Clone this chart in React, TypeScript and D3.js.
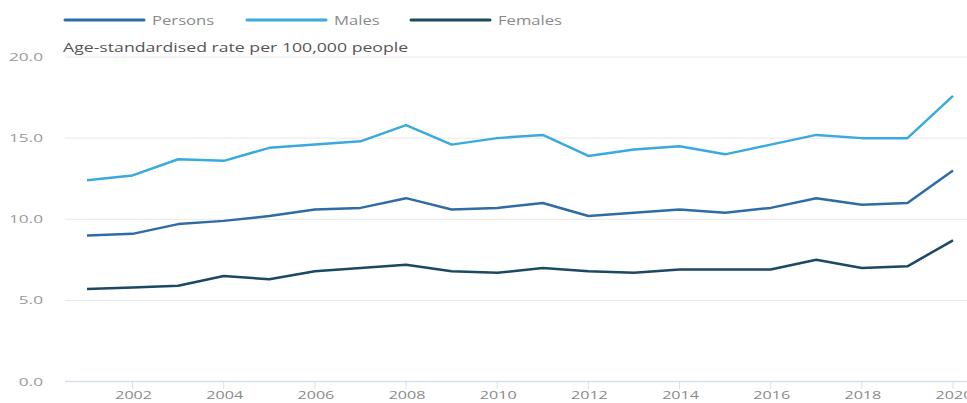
import * as React from 'react'
import * as d3 from 'd3'

const years = [2001, 2002, 2003, 2004, 2005, 2006, 2007, 2008, 2009, 2010, 2011, 2012, 2013, 2014, 2015, 2016, 2017, 2018, 2019, 2020]
const persons = [9.0, 9.1, 9.7, 9.9, 10.2, 10.6, 10.7, 11.3, 10.6, 10.7, 11.0, 10.2, 10.4, 10.6, 10.4, 10.7, 11.3, 10.9, 11.0, 13.0]
const males = [12.4, 12.7, 13.7, 13.6, 14.4, 14.6, 14.8, 15.8, 14.6, 15.0, 15.2, 13.9, 14.3, 14.5, 14.0, 14.6, 15.2, 15.0, 15.0, 17.6]
const females = [5.7, 5.8, 5.9, 6.5, 6.3, 6.8, 7.0, 7.2, 6.8, 6.7, 7.0, 6.8, 6.7, 6.9, 6.9, 6.9, 7.5, 7.0, 7.1, 8.7]
const yTicks = [0, 5, 10, 15, 20]
const xTicks = [2002, 2004, 2006, 2008, 2010, 2012, 2014, 2016, 2018, 2020]

const seriesNames = ['Persons', 'Males', 'Females']
const seriesColors = ['#2f6ba5', '#3aaadd', '#1b4863']

const W = 967
const H = 403
const FONT = "'Open Sans', sans-serif"

// the source image is stretched sideways, so text gets a horizontal scale
function Wide(props: { x: number; y: number; sx: number; anchor?: string; size: number; fill: string; children: React.ReactNode }) {
  return (
    <text transform={`translate(${props.x},${props.y}) scale(${props.sx},1)`} textAnchor={props.anchor || 'start'} fontSize={props.size} fill={props.fill}>
      {props.children}
    </text>
  )
}

export default function App() {
  const x = d3.scaleLinear().domain([2001, 2020]).range([87, 953])
  const y = d3.scaleLinear().domain([0, 20]).range([381.5, 57])
  const line = d3.line<number>()
    .x((_, i) => x(years[i]))
    .y(d => y(d))

  const all = [persons, males, females]
  const legendX = [65, 247, 411]

  return (
    <svg width={W} height={H} style={{ position: 'absolute', left: 0, top: 0, background: '#fff' }} fontFamily={FONT}>
      {yTicks.map(t => (
        <g key={t}>
          <line x1={65} x2={W} y1={y(t)} y2={y(t)} stroke={t === 0 ? '#d6dff0' : '#e8e8e8'} strokeWidth={t === 0 ? 1.5 : 1} />
          <Wide x={43} y={y(t) + 4} sx={1.5} anchor="end" size={11.5} fill="#9a9a9a">{d3.format('.1f')(t)}</Wide>
        </g>
      ))}
      {xTicks.map(t => (
        <g key={t}>
          <line x1={x(t)} x2={x(t)} y1={381.5} y2={389} stroke="#d6dff0" />
          <Wide x={x(t) + 1} y={399} sx={1.4} anchor="middle" size={11.5} fill="#8a8a8a">{t}</Wide>
        </g>
      ))}
      {all.map((s, i) => (
        <path key={i} d={line(s) || ''} fill="none" stroke={seriesColors[i]} strokeWidth={2.5} strokeLinejoin="round" />
      ))}
      {seriesNames.map((n, i) => (
        <g key={n}>
          <line x1={legendX[i]} x2={legendX[i] + 79} y1={20} y2={20} stroke={seriesColors[i]} strokeWidth={3} strokeLinecap="round" />
          <Wide x={legendX[i] + 87} y={25} sx={1.28} size={13} fill="#8a8a8a">{n}</Wide>
        </g>
      ))}
      <Wide x={63} y={52} sx={1.36} size={13} fill="#555">Age-standardised rate per 100,000 people</Wide>
    </svg>
  )
}
